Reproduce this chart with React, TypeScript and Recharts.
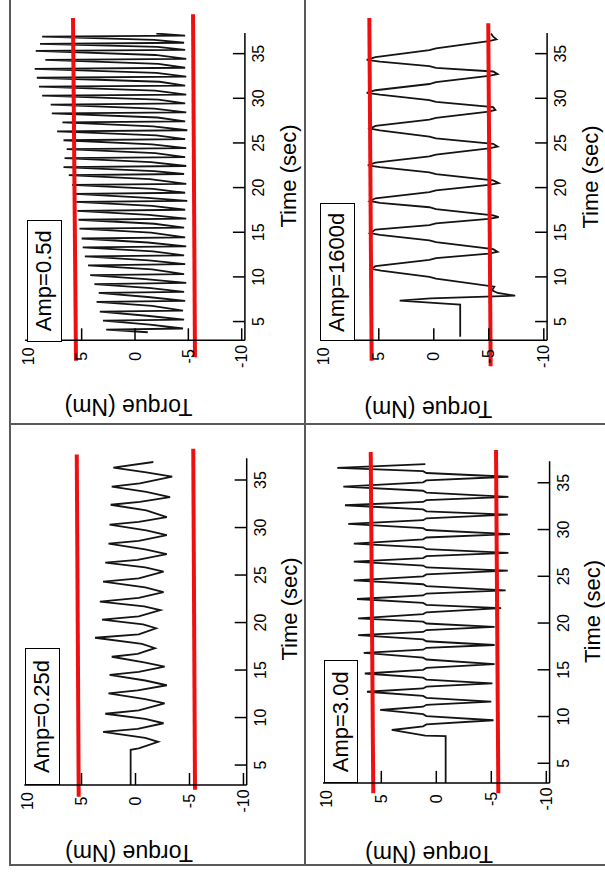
import React from "react";
import { LineChart, Line, XAxis, YAxis, ReferenceLine } from "recharts";

/* four torque traces, each plot drawn upright and then turned a quarter left */

type Pt = [number, number]; // [time (s), torque (Nm)]

const timeTicks = [5, 10, 15, 20, 25, 30, 35];
const torqueTicks = [-10, -5, 0, 5, 10];
const timeDomain: [number, number] = [2.9, 37.3];
const torqueDomain: [number, number] = [-10.3, 10.3];

const amp05: Pt[] = [
  [3.8, -1.2],
  [4.1, 2.7], [4.22, -4.5], [4.65, -1.4],
  [5.1, 3.0], [5.22, -4.6], [5.65, -1.1],
  [6.1, 3.3], [6.22, -4.5], [6.75, -1.6],
  [7.2, 3.6], [7.32, -4.7], [7.75, -1.2],
  [8.2, 3.4], [8.32, -4.6], [8.75, -1.5],
  [9.2, 3.8], [9.32, -4.8], [9.75, -1.0],
  [10.2, 4.2], [10.32, -4.6], [10.85, -1.6],
  [11.3, 4.4], [11.42, -4.7], [11.85, -1.3],
  [12.3, 4.7], [12.42, -4.6], [12.85, -1.7],
  [13.3, 4.9], [13.42, -4.8], [13.85, -1.2],
  [14.3, 5.0], [14.42, -4.7], [14.95, -1.5],
  [15.4, 5.2], [15.52, -4.6], [15.95, -1.8],
  [16.4, 5.3], [16.52, -4.8], [16.95, -1.3],
  [17.4, 5.4], [17.52, -4.7], [17.95, -1.6],
  [18.4, 5.5], [18.52, -4.9], [18.85, -1.2],
  [19.3, 5.6], [19.42, -4.7], [19.85, -1.7],
  [20.3, 5.9], [20.42, -4.8], [20.95, -1.4],
  [21.4, 6.2], [21.52, -4.6], [21.85, -1.8],
  [22.3, 6.7], [22.42, -4.8], [22.85, -1.5],
  [23.3, 6.6], [23.42, -4.7], [23.85, -1.9],
  [24.3, 6.4], [24.42, -4.8], [24.85, -1.6],
  [25.3, 6.7], [25.42, -4.7], [25.85, -2.0],
  [26.3, 7.3], [26.42, -4.9], [26.85, -1.7],
  [27.3, 6.8], [27.42, -4.7], [27.85, -2.1],
  [28.3, 7.8], [28.42, -4.8], [28.85, -1.8],
  [29.3, 7.9], [29.42, -4.7], [29.85, -2.2],
  [30.3, 8.7], [30.42, -4.8], [30.85, -1.9],
  [31.3, 9.0], [31.42, -4.7], [31.85, -2.3],
  [32.3, 9.2], [32.42, -4.8], [32.85, -2.0],
  [33.3, 9.4], [33.42, -4.7], [33.85, -2.2],
  [34.3, 8.4], [34.42, -4.8], [34.85, -1.9],
  [35.3, 9.3], [35.42, -4.7], [35.75, -2.1],
  [36.1, 8.9], [36.22, -4.6], [36.55, -1.8],
  [36.9, 8.7], [37.02, -4.7], [37.25, -2.0],
];

const amp1600: Pt[] = [
  [3.3, -2.4], [6.9, -2.4], [7.0, -1.0], [7.35, 3.1], [7.6, 0.3], [7.9, -7.4],
  [8.2, -5.8], [8.5, -5.3], [8.9, -5.5],
  [9.8, -0.2], [10.0, 0.4], [10.7, 4.8], [10.9, 5.7], [11.2, 5.3],
  [11.9, 0.4], [12.1, -0.2], [12.6, -5.0], [12.8, -5.8], [13.1, -5.4],
  [13.9, -0.2], [14.1, 0.4], [14.7, 4.9], [14.9, 5.8], [15.3, 5.3],
  [15.8, 0.4], [16.0, -0.2], [16.5, -5.0], [16.7, -5.9], [16.9, -5.4],
  [17.6, -0.2], [17.8, 0.4], [18.3, 4.9], [18.5, 5.8], [18.8, 5.3],
  [19.5, 0.4], [19.7, -0.2], [20.3, -5.0], [20.5, -5.9], [20.8, -5.4],
  [21.5, -0.2], [21.7, 0.4], [22.3, 4.9], [22.5, 6.0], [22.8, 5.3],
  [23.5, 0.4], [23.7, -0.2], [24.4, -5.0], [24.6, -5.8], [24.9, -5.4],
  [25.5, -0.2], [25.7, 0.4], [26.4, 4.9], [26.6, 5.8], [26.9, 5.3],
  [27.6, 0.4], [27.8, -0.2], [28.5, -5.0], [28.7, -5.6], [29.0, -5.4],
  [29.6, -0.2], [29.8, 0.4], [30.4, 4.9], [30.6, 6.1], [30.9, 5.3],
  [31.6, 0.4], [31.8, -0.2], [32.5, -5.0], [32.7, -5.8], [33.0, -5.4],
  [33.4, -0.2], [33.6, 0.4], [34.1, 4.9], [34.3, 6.1], [34.6, 5.3],
  [35.4, 0.4], [35.6, -0.2], [36.4, -5.0], [36.6, -5.7], [36.9, -5.4],
  [37.25, -5.2],
];

const amp025: Pt[] = [
  [2.9, 0.45], [6.6, 0.45], [6.75, -0.3], [7.45, -2.1],
  [7.85, -0.9], [8.5, 3.0], [8.8, -0.2], [9.4, -2.6],
  [9.85, -0.9], [10.4, 2.8], [10.75, -0.3], [11.5, -2.7],
  [11.95, -0.9], [12.55, 2.5], [12.85, -0.2], [13.4, -2.9],
  [13.9, -0.9], [14.5, 2.4], [14.8, -0.3], [15.35, -2.7],
  [15.8, -0.8], [16.4, 2.2], [16.7, -0.2], [17.3, -1.8],
  [17.75, -0.6], [18.4, 3.75], [18.75, -0.3], [19.4, -1.9],
  [19.8, -0.7], [20.3, 3.1], [20.65, -0.3], [21.3, -2.3],
  [21.7, -0.8], [22.2, 3.3], [22.6, -0.3], [23.2, -2.6],
  [23.7, -0.9], [24.3, 3.0], [24.65, -0.3], [25.35, -2.6],
  [25.8, -0.9], [26.3, 2.8], [26.6, -0.2], [27.2, -2.9],
  [27.7, -0.9], [28.3, 2.5], [28.6, -0.3], [29.2, -2.9],
  [29.7, -1.0], [30.3, 2.4], [30.6, -0.3], [31.1, -2.9],
  [31.8, -1.0], [32.4, 2.3], [32.7, -0.4], [33.2, -3.2],
  [33.75, -1.0], [34.3, 2.2], [34.65, -0.4], [35.35, -3.4],
  [35.8, -1.0], [36.3, 2.05], [36.9, -1.65],
];

const amp30: Pt[] = [
  [2.9, -0.85], [7.9, -0.85], [7.95, 1.0], [8.56, 4.05],
  [8.95, 1.2], [9.15, 0.9], [9.6, -5.2],
  [10.05, 0.9], [10.25, 1.2], [10.7, 5.1],
  [11.05, 1.2], [11.25, 0.9], [11.6, -5.0],
  [12.0, 0.9], [12.2, 1.2], [12.65, 6.3],
  [13.0, 1.2], [13.2, 0.9], [13.55, -5.1],
  [13.95, 0.9], [14.15, 1.2], [14.6, 6.5],
  [15.0, 1.2], [15.2, 0.9], [15.6, -5.3],
  [16.1, 0.9], [16.3, 1.2], [16.8, 6.6],
  [17.15, 1.2], [17.35, 0.9], [17.65, -5.3],
  [18.05, 0.9], [18.25, 1.2], [18.7, 7.1],
  [19.05, 1.2], [19.25, 0.9], [19.6, -5.3],
  [19.95, 0.9], [20.15, 1.2], [20.5, 7.1],
  [20.95, 1.2], [21.15, 0.9], [21.6, -5.9],
  [21.95, 0.9], [22.15, 1.2], [22.57, 7.2],
  [22.95, 1.2], [23.15, 0.9], [23.5, -6.3],
  [23.95, 0.9], [24.15, 1.2], [24.57, 7.5],
  [25.0, 1.2], [25.2, 0.9], [25.6, -6.5],
  [25.95, 0.9], [26.15, 1.2], [26.56, 7.5],
  [26.95, 1.2], [27.15, 0.9], [27.5, -6.55],
  [27.9, 0.9], [28.1, 1.2], [28.5, 7.5],
  [28.95, 1.2], [29.15, 0.9], [29.5, -6.7],
  [29.95, 0.9], [30.15, 1.2], [30.6, 8.0],
  [31.0, 1.2], [31.2, 0.9], [31.6, -6.5],
  [31.95, 0.9], [32.15, 1.2], [32.6, 8.3],
  [32.95, 1.2], [33.15, 0.9], [33.5, -6.55],
  [33.95, 0.9], [34.15, 1.2], [34.6, 8.45],
  [35.05, 1.2], [35.25, 0.9], [35.65, -6.55],
  [36.05, 0.9], [36.25, 1.2], [36.6, 9.0],
  [37.0, 1.0],
];

// red limit lines, end points as [time, torque]
const upper05: Pt[] = [[0.6, 5.53], [39.0, 5.81]];
const lower05: Pt[] = [[1.0, -5.62], [39.4, -5.44]];
const upper1600: Pt[] = [[0.6, 5.65], [39.0, 5.86]];
const lower1600: Pt[] = [[0.0, -5.17], [38.4, -4.95]];
const upper025: Pt[] = [[1.66, 5.26], [37.7, 5.44]];
const lower025: Pt[] = [[2.4, -5.51], [38.3, -5.35]];
const upper30: Pt[] = [[1.8, 5.73], [38.3, 5.96]];
const lower30: Pt[] = [[1.8, -5.64], [38.5, -5.43]];

const panels = [
  {
    name: "Amp=0.5d", data: amp05, upper: upper05, lower: lower05,
    left: 10, top: 0, fw: 294, fh: 424,
    mt: 15.1, mb: 59.1, ml: 83.7, mr: 33.1,
    timeDx: 10.7, torqueDx: -24.85, torqueDy: -6.5,
    box: { left: 82.3, top: 16.7, width: 122, height: 35 },
  },
  {
    name: "Amp=1600d", data: amp1600, upper: upper1600, lower: lower1600,
    left: 305, top: 0, fw: 300, fh: 424,
    mt: 15.5, mb: 57.9, ml: 83.7, mr: 33.1,
    timeDx: 9.7, torqueDx: -26.85, torqueDy: -5.5,
    box: { left: 82.7, top: 15, width: 138, height: 35 },
  },
  {
    name: "Amp=0.25d", data: amp025, upper: upper025, lower: lower025,
    left: 10, top: 424, fw: 294, fh: 442,
    mt: 14.3, mb: 57.3, ml: 81, mr: 34.2,
    timeDx: 12.6, torqueDx: -27.5, torqueDy: -6.5,
    box: { left: 81, top: 15, width: 137, height: 35 },
  },
  {
    name: "Amp=3.0d", data: amp30, upper: upper30, lower: lower30,
    left: 305, top: 424, fw: 300, fh: 442,
    mt: 18, mb: 55.4, ml: 83.1, mr: 37.3,
    timeDx: 10.6, torqueDx: -29.3, torqueDy: -7.3,
    box: { left: 82.7, top: 19, width: 123, height: 34 },
  },
];

const axisLine = { stroke: "#000", strokeWidth: 1.5 };
const tickLine = { stroke: "#000", strokeWidth: 1.5 };
const blank = () => "";

function Panel({ p }: { p: (typeof panels)[number] }) {
  const W = p.fh;
  const H = p.fw;
  const rows = p.data.map(([t, v]) => ({ t, v }));
  const seg = (s: Pt[]) => s.map(([x, y]) => ({ x, y }));

  return (
    <div style={{ position: "absolute", left: p.left, top: p.top, width: p.fw, height: p.fh }}>
      <div
        style={{
          position: "absolute",
          left: 0,
          top: 0,
          width: W,
          height: H,
          transformOrigin: "0 0",
          transform: `translate(0px, ${W}px) rotate(-90deg)`,
        }}
      >
        <LineChart width={W} height={H} data={rows} margin={{ top: p.mt, right: p.mr, bottom: 0, left: 0 }}>
          <XAxis
            dataKey="t" type="number" domain={timeDomain} ticks={timeTicks} allowDataOverflow
            interval={0} height={p.mb} tickSize={-12} tickMargin={20}
            axisLine={axisLine} tickLine={tickLine}
            tick={{ fill: "#000", fontSize: 16 }}
            label={{ value: "Time (sec)", position: "insideTop", offset: 35, dx: p.timeDx, fill: "#000", fontSize: 22 }}
          />
          <XAxis
            xAxisId="top" orientation="top" dataKey="t" type="number" domain={timeDomain} ticks={timeTicks}
            allowDataOverflow interval={0} height={0} tickSize={-12} tickFormatter={blank}
            axisLine={axisLine} tickLine={tickLine}
          />
          <YAxis
            type="number" domain={torqueDomain} ticks={torqueTicks} allowDataOverflow
            interval={0} width={p.ml} tickSize={-12} tickMargin={28}
            axisLine={axisLine} tickLine={tickLine}
            tick={{ fill: "#000", fontSize: 16, textAnchor: "middle" }}
            label={{ value: "Torque (Nm)", angle: -90, position: "center", dx: p.torqueDx, dy: p.torqueDy, fill: "#000", fontSize: 23 }}
          />
          <YAxis
            yAxisId="right" orientation="right" type="number" domain={torqueDomain} ticks={torqueTicks}
            allowDataOverflow interval={0} width={0} tickSize={-12} tickFormatter={blank}
            axisLine={axisLine} tickLine={tickLine}
          />
          <Line
            dataKey="v" type="linear" stroke="#141414" strokeWidth={1.8}
            dot={false} activeDot={false} isAnimationActive={false}
          />
          <ReferenceLine segment={seg(p.upper)} stroke="#ee1010" strokeWidth={4} ifOverflow="visible" />
          <ReferenceLine segment={seg(p.lower)} stroke="#ee1010" strokeWidth={4} ifOverflow="visible" />
        </LineChart>
        <div
          style={{
            position: "absolute",
            left: p.box.left,
            top: p.box.top,
            width: p.box.width,
            height: p.box.height,
            boxSizing: "border-box",
            border: "1.5px solid #000",
            background: "#fff",
            fontSize: 22,
            lineHeight: `${p.box.height - 3}px`,
            textAlign: "center",
            color: "#000",
          }}
        >
          {p.name}
        </div>
      </div>
    </div>
  );
}

const rule = (s: React.CSSProperties) => (
  <div style={{ position: "absolute", background: "#5a5a5a", ...s }} />
);

export default function App() {
  return (
    <div
      style={{
        position: "absolute",
        left: 0,
        top: 0,
        width: 605,
        height: 876,
        background: "#fff",
        overflow: "hidden",
        fontFamily: "'Liberation Sans', Arial, Helvetica, sans-serif",
      }}
    >
      {panels.map((p) => (
        <Panel key={p.name} p={p} />
      ))}
      {rule({ left: 9, top: 0, width: 2, height: 866 })}
      {rule({ left: 304, top: 0, width: 2, height: 866 })}
      {rule({ left: 9, top: 423, width: 596, height: 2 })}
      {rule({ left: 9, top: 864, width: 596, height: 2 })}
    </div>
  );
}
